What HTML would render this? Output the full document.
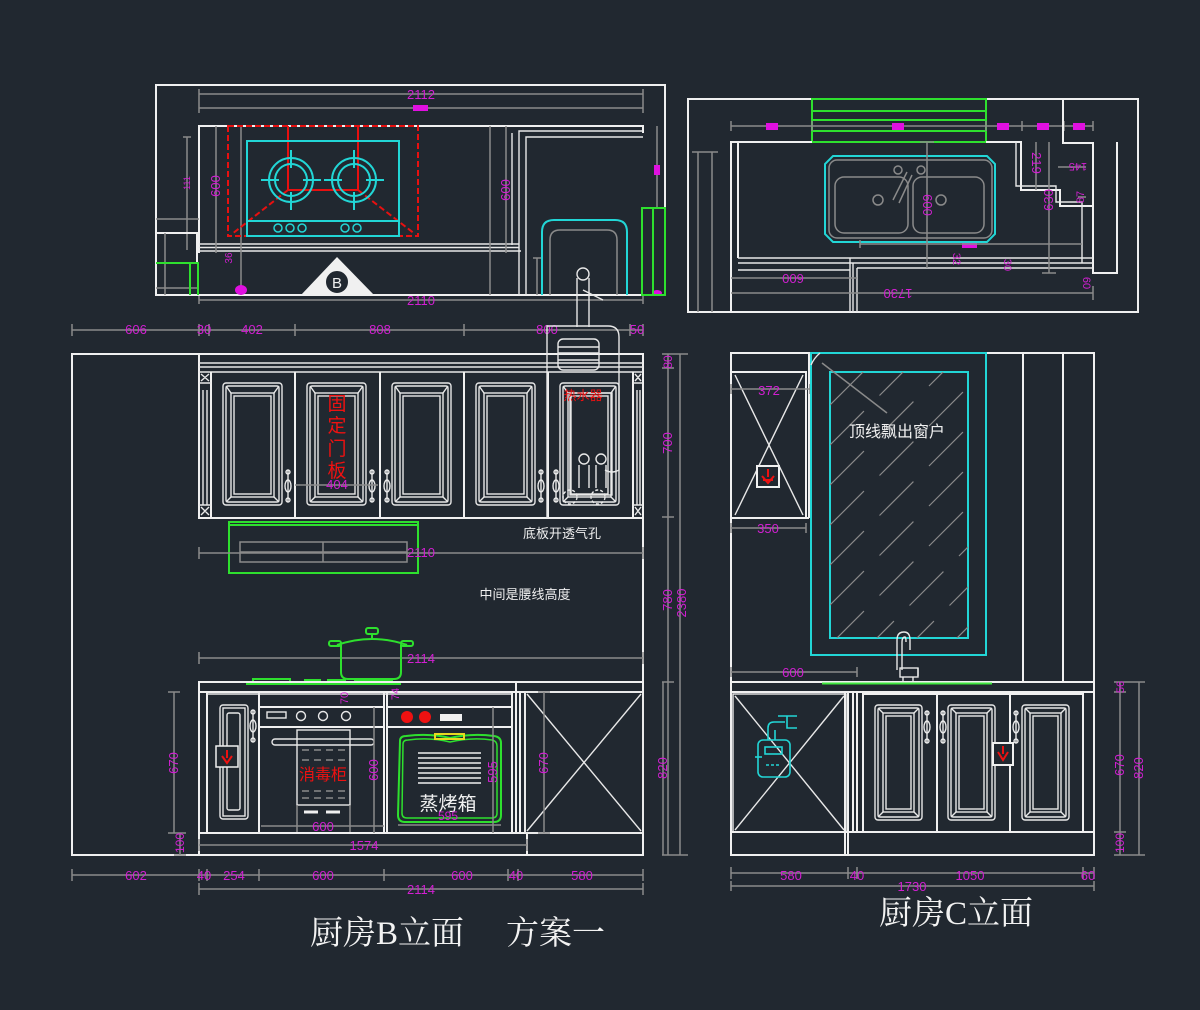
<!DOCTYPE html>
<html><head><meta charset="utf-8"><style>
html,body{margin:0;padding:0;background:#212830;}
svg{display:block}
</style></head><body>
<svg width="1200" height="1010" viewBox="0 0 1200 1010" xmlns="http://www.w3.org/2000/svg">
<defs>
<style>
.w{fill:none;stroke:#f0f0f0;stroke-width:2}
.w1{fill:none;stroke:#e8e8e8;stroke-width:1.4}
.g{fill:none;stroke:#8a8a8a;stroke-width:1.5}
.c{fill:none;stroke:#22d6d6;stroke-width:2}
.gr{fill:none;stroke:#2ee02e;stroke-width:2}
.r{fill:none;stroke:#e81010;stroke-width:2}
.m{fill:#d21fd2;font-family:"Liberation Sans",sans-serif;font-size:13px;text-anchor:middle}
.t{fill:#f0f0f0;font-family:"Liberation Sans","Noto Sans CJK SC",sans-serif;text-anchor:middle}
.rt{fill:#ee1111;font-family:"Liberation Sans","Noto Sans CJK SC",sans-serif;text-anchor:middle}
</style>
<g id="pu">
<rect x="0" y="0" width="59" height="122" rx="3" class="w1"/>
<rect x="3" y="3" width="53" height="116" rx="2" class="w1"/>
<rect x="8" y="10" width="43" height="104" class="w1"/>
<rect x="11" y="13" width="37" height="98" class="w1"/>
<path d="M3,3 L8,10 M56,3 L51,10 M3,119 L8,114 M56,119 L51,114" class="w1"/>
</g>
<g id="pl">
<rect x="0" y="0" width="47" height="115" rx="3" class="w1"/>
<rect x="3" y="3" width="41" height="109" rx="2" class="w1"/>
<rect x="8" y="8" width="31" height="99" class="w1"/>
<rect x="11" y="11" width="25" height="93" class="w1"/>
<path d="M3,3 L8,8 M44,3 L39,8 M3,112 L8,107 M44,112 L39,107" class="w1"/>
</g>
<g id="hd">
<line x1="0" y1="0" x2="0" y2="32" class="w1"/>
<circle cx="0" cy="2" r="2" class="w1"/>
<circle cx="0" cy="30" r="2" class="w1"/>
<ellipse cx="0" cy="16" rx="3" ry="6" class="w1"/>
</g>
<clipPath id="win"><rect x="830" y="372" width="138" height="266"/></clipPath>
</defs>
<rect width="1200" height="1010" fill="#212830"/>

<!-- ================= TOP LEFT PLAN ================= -->
<rect x="156" y="85" width="509" height="210" class="w"/>
<path d="M199,94 H643 M199,108 H643 M199,89 V113 M643,89 V113" class="g"/>
<text x="421" y="99" class="m">2112</text>
<rect x="413" y="105" width="15" height="6" fill="#e010e0"/>
<path d="M199,253 V126 H643 V133" class="w"/>
<path d="M199,244 H519 M199,247.5 H519 M199,251 H521" class="w1"/>
<path d="M519,295 V131 H643 M526,295 V137 H643 M512,133 V245" class="w1"/>
<path d="M187,137 V250 M183,137 H191 M216,126 V253 M241,126 V295 M490,126 V295 M506,126 V253 M657,126 V208" class="g"/>
<text class="m" style="font-size:9px" transform="translate(187,183) rotate(-90)" y="3">111</text>
<text class="m" transform="translate(216,186) rotate(-90)" y="4">600</text>
<text class="m" transform="translate(506,190) rotate(-90)" y="4">600</text>
<text class="m" style="font-size:10px" transform="translate(229,258) rotate(-90)" y="3">36</text>
<ellipse cx="241" cy="290" rx="6" ry="5" fill="#e010e0"/>
<rect x="654" y="165" width="6" height="10" fill="#e010e0"/>
<ellipse cx="657" cy="293" rx="5" ry="3" fill="#e010e0"/>
<path d="M156,233 H197 V262" class="w"/>
<path d="M156,219 H199 M156,288 H199 M165,233 V295" class="g"/>
<path d="M156,263 H198 V295 M190,263 V295" class="gr"/>
<rect x="228" y="126" width="190" height="110" class="r" stroke-dasharray="6,3"/>
<path d="M288,126 V190 H358 V126" class="r"/>
<path d="M288,190 L232,234 M358,190 L415,234" class="r" stroke-dasharray="6,3"/>
<rect x="247" y="141" width="152" height="95" class="c"/>
<line x1="247" y1="221" x2="399" y2="221" class="c"/>
<circle cx="291" cy="180" r="22" class="c"/><circle cx="291" cy="180" r="16" class="c"/>
<path d="M261,180 H279 M303,180 H321 M291,150 V168 M291,192 V210" class="c"/>
<circle cx="354" cy="180" r="22" class="c"/><circle cx="354" cy="180" r="16" class="c"/>
<path d="M324,180 H342 M366,180 H384 M354,150 V168 M354,192 V210" class="c"/>
<g class="c" style="stroke-width:1.5"><circle cx="278" cy="228" r="4"/><circle cx="290" cy="228" r="4"/><circle cx="302" cy="228" r="4"/><circle cx="345" cy="228" r="4"/><circle cx="357" cy="228" r="4"/></g>
<polygon points="301,295 337,257 374,295" fill="#f0f0f0"/>
<circle cx="337" cy="282" r="12" fill="#212830" stroke="#f0f0f0" stroke-width="2"/>
<text x="337" y="288" class="t" style="font-size:15px">B</text>
<path d="M542,295 V232 Q542,220 554,220 H615 Q627,220 627,232 V295" class="c"/>
<path d="M550,295 V240 Q550,230 560,230 H607 Q617,230 617,240 V295" class="g"/>
<path d="M537,258 V295 M533,258 H541" class="g"/>
<rect x="642" y="208" width="23" height="87" class="gr"/>
<line x1="653" y1="208" x2="653" y2="295" class="gr"/>
<path d="M199,300 H643 M199,296 V304 M643,296 V304" class="g"/>
<text x="421" y="305" class="m">2110</text>
<circle cx="583" cy="274" r="6" class="w1"/>
<path d="M577,278 V327 M589,278 V327 M583,290 L603,300" class="w1"/>

<!-- ================= TOP RIGHT PLAN ================= -->
<rect x="688" y="99" width="450" height="213" class="w"/>
<rect x="812" y="99" width="174" height="43" class="gr"/>
<path d="M812,111 H986 M812,120 H986 M812,131 H986" class="gr"/>
<path d="M731,126 H1093 M731,121 V131 M812,121 V131 M986,121 V131 M1022,121 V131 M1064,121 V131 M1093,121 V131" class="g"/>
<g fill="#e010e0"><rect x="766" y="123" width="12" height="7"/><rect x="892" y="123" width="12" height="7"/><rect x="997" y="123" width="12" height="7"/><rect x="1037" y="123" width="12" height="7"/><rect x="1073" y="123" width="12" height="7"/><rect x="962" y="242" width="15" height="6"/></g>
<path d="M731,312 V142 H812 M986,142 H1021 V190 H1060 V206 H1093 M738,258 V142" class="w"/>
<path d="M1016,142 V186 H1056 V202 H1082 V263" class="w1"/>
<path d="M1063,99 V143 H1093 V273 H1117 V142" class="w"/>
<path d="M738,258 H1093 M738,263 H1093 M738,270 H850 M857,268 H1093 M850,258 V312 M853,263 V312 M857,268 V312" class="w1"/>
<path d="M698,152 V312 M712,152 V312 M692,152 H718" class="g"/>
<path d="M833,156 H987 L995,164 V234 L987,242 H833 L825,234 V164 Z" class="c"/>
<rect x="829" y="160" width="163" height="78" rx="8" class="g"/>
<rect x="835" y="177" width="73" height="56" rx="9" class="g"/>
<rect x="913" y="177" width="71" height="56" rx="9" class="g"/>
<path d="M893,200 L907,172 M899,203 L912,175" class="g"/>
<circle cx="898" cy="170" r="4" class="g"/><circle cx="921" cy="170" r="4" class="g"/>
<circle cx="878" cy="200" r="5" class="g"/><circle cx="941" cy="200" r="5" class="g"/>
<path d="M927,142 V268 M920,142 H934 M1049,142 V273 M1042,273 H1056 M1036,142 V190 M860,244 H1082 M860,240 V248" class="g"/>
<path d="M731,278 H857 M731,293 H1093 M1093,286 V300 M1058,167 H1086 M1078,197 H1086" class="g"/>
<text class="m" transform="translate(927,205) rotate(90)" y="4">600</text>
<text class="m" transform="translate(1049,200) rotate(-90)" y="4">630</text>
<text class="m" transform="translate(1036,163) rotate(90)" y="4">219</text>
<text class="m" style="font-size:11px" transform="translate(1078,167) rotate(180)" y="4">145</text>
<text class="m" style="font-size:11px" transform="translate(1080,197) rotate(-90)" y="4">87</text>
<text class="m" style="font-size:11px" transform="translate(957,259) rotate(90)" y="4">32</text>
<text class="m" style="font-size:11px" transform="translate(1008,265) rotate(90)" y="4">30</text>
<text class="m" style="font-size:11px" transform="translate(1087,283) rotate(90)" y="4">60</text>
<text class="m" transform="translate(793,278) rotate(180)" y="4">600</text>
<text class="m" transform="translate(898,293) rotate(180)" y="4">1730</text>

<!-- ================= B ELEVATION ================= -->
<path d="M72,330 H643 M72,324 V336 M199,324 V336 M209,324 V336 M295,324 V336 M464,324 V336 M630,324 V336 M643,324 V336" class="g"/>
<text x="136" y="334" class="m">606</text>
<text x="204" y="334" class="m">30</text>
<text x="252" y="334" class="m">402</text>
<text x="380" y="334" class="m">808</text>
<text x="547" y="334" class="m">800</text>
<text x="637" y="334" class="m">50</text>
<path d="M199,354 H72 V855 H643 V354" class="w"/>
<rect x="199" y="354" width="444" height="164" class="w"/>
<path d="M199,363 H643 M199,367 H643 M199,372 H643" class="w1"/>
<path d="M211,372 V518 M295,372 V518 M380,372 V518 M464,372 V518 M548,372 V518 M633,372 V518" class="w"/>
<path d="M203,390 V505 M207,390 V505 M637,390 V505 M640,390 V505 M199,383 H211 M199,505 H211 M633,383 H643 M633,505 H643" class="w1"/>
<path d="M201,374 L209,381 M209,374 L201,381 M201,507 L209,515 M209,507 L201,515 M635,374 L641,381 M641,374 L635,381 M635,507 L641,515 M641,507 L635,515" class="w1"/>
<use href="#pu" x="223" y="383"/>
<use href="#pu" x="307" y="383"/>
<use href="#pu" x="392" y="383"/>
<use href="#pu" x="476" y="383"/>
<use href="#pu" x="560" y="383"/>
<use href="#hd" x="288" y="470"/>
<use href="#hd" x="372" y="470"/>
<use href="#hd" x="387" y="470"/>
<use href="#hd" x="541" y="470"/>
<use href="#hd" x="556" y="470"/>
<path d="M547,518 V326 H608 Q619,326 619,337 V470 Q612,474 605,470" class="w1"/>
<rect x="558" y="339" width="41" height="31" rx="5" class="w1"/>
<path d="M558,347 H599 M558,353 H599 M558,360 H599" class="w1"/>
<rect x="570" y="393" width="42" height="102" class="w1"/>
<circle cx="584" cy="459" r="5" class="w1"/><circle cx="601" cy="459" r="5" class="w1"/>
<path d="M579,465 V488 M589,465 V488 M596,465 V488 M606,465 V488" class="w1"/>
<circle cx="570" cy="497" r="7" class="w1" stroke-dasharray="3,2"/>
<circle cx="598" cy="497" r="7" class="w1" stroke-dasharray="3,2"/>
<text x="583" y="400" class="rt" style="font-size:13px">热水器</text>
<text class="rt" style="font-size:19px" x="337" y="410">固</text>
<text class="rt" style="font-size:19px" x="337" y="432">定</text>
<text class="rt" style="font-size:19px" x="337" y="455">门</text>
<text class="rt" style="font-size:19px" x="337" y="477">板</text>
<path d="M295,485 H378" class="g"/>
<text x="337" y="489" class="m">404</text>
<rect x="229" y="522" width="189" height="51" class="gr"/>
<line x1="229" y1="525" x2="418" y2="525" class="gr"/>
<rect x="240" y="542" width="167" height="20" class="g"/>
<path d="M240,552 H407 M323,542 V562" class="g"/>
<path d="M199,553 H643 M199,547 V559 M643,547 V559" class="g"/>
<text x="421" y="557" class="m">2110</text>
<text x="562" y="538" class="t" style="font-size:13px">底板开透气孔</text>
<text x="525" y="599" class="t" style="font-size:13px">中间是腰线高度</text>
<path d="M668,354 V855 M680,354 V855 M662,354 H688 M662,368 H674 M662,517 H674 M662,682 H674 M662,855 H688" class="g"/>
<text class="m" style="font-size:12px" transform="translate(668,362) rotate(-90)" y="4">80</text>
<text class="m" transform="translate(668,443) rotate(-90)" y="4">700</text>
<text class="m" transform="translate(668,600) rotate(-90)" y="4">780</text>
<text class="m" transform="translate(682,603) rotate(-90)" y="4">2380</text>
<path d="M663,682 V855" class="g"/>
<text class="m" transform="translate(663,768) rotate(-90)" y="4">820</text>
<path d="M199,658 H643 M199,652 V664 M643,652 V664" class="g"/>
<text x="421" y="663" class="m">2114</text>
<g class="gr">
<path d="M341,645 V672 Q341,679 348,679 H394 Q401,679 401,672 V645"/>
<path d="M337,645 Q372,633 407,645"/>
<rect x="329" y="641" width="12" height="5" rx="2"/>
<rect x="401" y="641" width="12" height="5" rx="2"/>
<rect x="366" y="628" width="12" height="6" rx="2"/>
<path d="M372,634 V638"/>
<path d="M246,684 H401 M253,684 V679 H290 V684 M305,684 V680 H320 V684 M328,684 V680 H345 V684 M355,684 V680 H392 V684"/>
</g>
<rect x="199" y="682" width="444" height="10" class="w"/>
<path d="M516,682 V692" class="w"/>
<path d="M199,692 V855 M199,833 H643 M207,692 V833 M259,692 V833 M384,692 V833 M387,692 V833 M512,692 V833 M516,692 V833 M520,692 V833 M525,692 V833 M527,833 V855" class="w"/>
<path d="M207,694 H512" class="w1"/>
<rect x="220" y="705" width="28" height="114" rx="3" class="w1"/>
<rect x="223" y="708" width="22" height="108" class="w1"/>
<rect x="227" y="713" width="13" height="97" rx="2" class="w1"/>
<use href="#hd" x="253" y="710"/>
<rect x="216" y="746" width="22" height="21" fill="#212830" stroke="#f0f0f0" stroke-width="1.5"/>
<path d="M227,750 V758 M222,756 L227,763 L232,756" stroke="#ee1111" stroke-width="2" fill="none"/>
<path d="M259,707 H384 M259,727 H384" class="w"/>
<rect x="267" y="712" width="19" height="6" class="w1"/>
<g class="w1"><circle cx="301" cy="716" r="4.5"/><circle cx="323" cy="716" r="4.5"/><circle cx="346" cy="716" r="4.5"/></g>
<rect x="272" y="739" width="102" height="6" rx="3" class="w1"/>
<rect x="297" y="730" width="53" height="75" class="w1"/>
<path d="M302,750 H345 M302,760 H345 M302,791 H345 M302,798 H345" class="g" stroke-dasharray="7,5"/>
<path d="M297,805 V832 M350,805 V832" class="g"/>
<path d="M304,812 H318 M326,812 H340" stroke="#f0f0f0" stroke-width="3"/>
<text x="323" y="780" class="rt" style="font-size:16px">消毒柜</text>
<path d="M261,826 H384 M374,707 V833" class="g"/>
<text x="323" y="831" class="m">600</text>
<text class="m" style="font-size:11px" transform="translate(344,698) rotate(-90)" y="4">70</text>
<text class="m" style="font-size:11px" transform="translate(395,694) rotate(-90)" y="4">74</text>
<text class="m" transform="translate(374,770) rotate(-90)" y="4">600</text>
<path d="M387,707 H512 M387,727 H512" class="w"/>
<circle cx="407" cy="717" r="6" fill="#ee1111"/><circle cx="425" cy="717" r="6" fill="#ee1111"/>
<rect x="440" y="714" width="22" height="7" fill="#f0f0f0"/>
<path d="M400,741 Q400,736 406,736 Q430,733 450,738 Q472,733 494,736 Q501,737 501,743 V815 Q501,822 494,822 H405 Q398,822 398,815 Z" class="gr"/>
<path d="M403,744 Q403,740 408,740 Q430,737 450,742 Q472,737 492,740 Q497,741 497,746 V813 Q497,818 492,818 H407 Q402,818 402,813 Z" class="gr" style="stroke-width:1.5"/>
<rect x="435" y="734" width="29" height="5" fill="none" stroke="#e8d820" stroke-width="2"/>
<path d="M418,753 H481 M418,758 H481 M418,763 H481 M418,768 H481 M418,773 H481 M418,778 H481 M418,783 H481" stroke="#f0f0f0" stroke-width="1.5"/>
<text x="448" y="810" class="t" style="font-size:19px">蒸烤箱</text>
<text x="448" y="820" class="m" style="font-size:12px">595</text>
<path d="M493,707 V833 M398,825 H501" class="g"/>
<text class="m" transform="translate(493,772) rotate(-90)" y="4">595</text>
<rect x="525" y="692" width="118" height="141" class="w1"/>
<path d="M527,694 L641,831 M641,694 L527,831" class="w1"/>
<path d="M544,692 V833 M538,692 H550 M538,833 H550" class="g"/>
<text class="m" transform="translate(544,763) rotate(-90)" y="4">670</text>
<path d="M174,692 V833 M180,833 V855 M168,692 H180 M168,833 H186 M174,855 H186" class="g"/>
<text class="m" transform="translate(174,763) rotate(-90)" y="4">670</text>
<text class="m" style="font-size:12px" transform="translate(180,843) rotate(-90)" y="4">100</text>
<path d="M199,845 H527 M199,839 V851 M527,839 V851" class="g"/>
<text x="364" y="850" class="m">1574</text>
<path d="M72,875 H643 M72,869 V881 M199,869 V881 M207,869 V881 M259,869 V881 M384,869 V881 M508,869 V881 M518,869 V881 M643,869 V881" class="g"/>
<text x="136" y="880" class="m">602</text>
<text x="204" y="880" class="m">40</text>
<text x="234" y="880" class="m">254</text>
<text x="323" y="880" class="m">600</text>
<text x="462" y="880" class="m">600</text>
<text x="516" y="880" class="m">40</text>
<text x="582" y="880" class="m">580</text>
<path d="M199,889 H643 M199,883 V895 M643,883 V895" class="g"/>
<text x="421" y="894" class="m">2114</text>
<text x="310" y="944" style="fill:#f2f2f2;font-family:'Liberation Serif','Noto Serif CJK SC',serif;font-size:33px">厨房B立面</text>
<text x="506" y="944" style="fill:#f2f2f2;font-family:'Liberation Serif','Noto Serif CJK SC',serif;font-size:33px">方案一</text>

<!-- ================= C ELEVATION ================= -->
<rect x="731" y="353" width="363" height="502" class="w"/>
<path d="M1023,353 V682 M1063,353 V682" class="w"/>
<path d="M731,372 H806 V518 H731 M809,353 V518 M731,518 H809" class="w"/>
<path d="M735,375 L803,515 M803,375 L735,515" class="w1"/>
<rect x="757" y="466" width="22" height="21" fill="#212830" stroke="#f0f0f0" stroke-width="2"/>
<path d="M768,469 V477 M762,476 L768,483 L774,476 M763,480 H773" stroke="#ee1111" stroke-width="2" fill="none"/>
<path d="M731,389 H810 M731,384 V394 M810,384 V394 M731,528 H806 M731,523 V533 M806,523 V533" class="g"/>
<text x="769" y="395" class="m">372</text>
<text x="768" y="533" class="m">350</text>
<rect x="811" y="353" width="175" height="302" class="c"/>
<rect x="830" y="372" width="138" height="266" class="c"/>
<g clip-path="url(#win)" class="g" style="stroke-width:1.2" stroke-dasharray="48,22">
<line x1="830" y1="405" x2="885" y2="350"/>
<line x1="830" y1="445" x2="925" y2="350"/>
<line x1="830" y1="485" x2="965" y2="350"/>
<line x1="830" y1="525" x2="1005" y2="350"/>
<line x1="830" y1="565" x2="1010" y2="385"/>
<line x1="830" y1="605" x2="1010" y2="425"/>
<line x1="830" y1="645" x2="1010" y2="465"/>
<line x1="860" y1="655" x2="1010" y2="505"/>
<line x1="900" y1="655" x2="1010" y2="545"/>
<line x1="940" y1="655" x2="1010" y2="585"/>
</g>
<path d="M822,363 L887,413" class="g"/>
<path d="M811,365 Q814,358 820,353" class="w1"/>
<text x="897" y="437" class="t" style="font-size:16px">顶线飘出窗户</text>
<path d="M897,670 V640 Q897,632 904,632 Q910,632 910,640 V650 M902,670 V642 Q902,637 905,637 Q906,637 906,642" class="w1"/>
<rect x="900" y="668" width="18" height="9" class="w1"/>
<path d="M918,668 V676 M903,677 V682 M913,677 V682" class="w1"/>
<path d="M731,672 H857 M731,667 V677 M857,667 V677" class="g"/>
<text x="793" y="677" class="m">600</text>
<path d="M731,682 H1094 M731,692 H1094" class="w"/>
<line x1="822" y1="683.5" x2="992" y2="683.5" stroke="#3ee83e" stroke-width="2"/>
<rect x="733" y="694" width="113" height="138" class="w1"/>
<path d="M735,696 L844,830 M844,696 L735,830" class="w1"/>
<path d="M845,692 V855 M848,692 V855 M853,692 V832 M857,692 V832 M731,832 H1094" class="w"/>
<rect x="863" y="694" width="220" height="138" class="w"/>
<path d="M937,694 V832 M1010,694 V832" class="w"/>
<use href="#pl" x="875" y="705"/>
<use href="#pl" x="948" y="705"/>
<use href="#pl" x="1022" y="705"/>
<use href="#hd" x="927" y="711"/>
<use href="#hd" x="943" y="711"/>
<use href="#hd" x="1016" y="711"/>
<rect x="993" y="743" width="20" height="22" fill="#212830" stroke="#f0f0f0" stroke-width="2"/>
<path d="M1003,746 V754 M998,752 L1003,760 L1008,752" stroke="#ee1111" stroke-width="2" fill="none"/>
<g class="c" style="stroke-width:1.6">
<rect x="758" y="740" width="32" height="37" rx="5"/>
<rect x="765" y="747" width="17" height="7"/>
<path d="M766,765 H781" stroke-dasharray="3,2"/>
<path d="M768,740 V728 Q768,722 774,722 H785 M775,740 V730 M778,716 H797 M787,716 V728 H797"/>
<path d="M755,757 H762"/>
</g>
<path d="M1120,682 V855 M1139,682 V855 M1114,682 H1145 M1114,692 H1126 M1114,832 H1126 M1114,855 H1145" class="g"/>
<text class="m" style="font-size:11px" transform="translate(1120,687) rotate(-90)" y="4">56</text>
<text class="m" transform="translate(1120,765) rotate(-90)" y="4">670</text>
<text class="m" style="font-size:12px" transform="translate(1120,843) rotate(-90)" y="4">100</text>
<text class="m" transform="translate(1139,768) rotate(-90)" y="4">820</text>
<path d="M731,873 H1094 M731,867 V879 M848,867 V879 M857,867 V879 M1083,867 V879 M1094,867 V879" class="g"/>
<text x="791" y="880" class="m">580</text>
<text x="857" y="880" class="m">40</text>
<text x="970" y="880" class="m">1050</text>
<text x="1088" y="880" class="m">60</text>
<path d="M731,886 H1094 M731,881 V891 M1094,881 V891" class="g"/>
<text x="912" y="891" class="m">1730</text>
<text x="879" y="924" style="fill:#f2f2f2;font-family:'Liberation Serif','Noto Serif CJK SC',serif;font-size:33px">厨房C立面</text>
</svg>
</body></html>
